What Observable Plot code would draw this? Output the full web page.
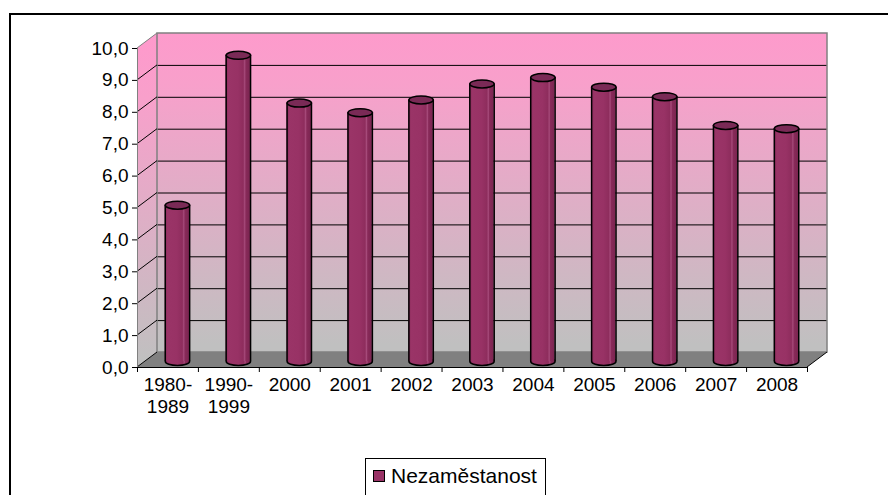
<!DOCTYPE html>
<html>
<head>
<meta charset="utf-8">
<script src="https://cdn.jsdelivr.net/npm/d3@7"></script>
<script src="https://cdn.jsdelivr.net/npm/@observablehq/plot@0.6"></script>
<style>
  html, body { margin: 0; padding: 0; background: #fff; overflow: hidden; width: 888px; height: 495px; }
  #frame { position: absolute; left: 9px; top: 13px; width: 1000px; height: 1000px; border: 2px solid #000; box-sizing: border-box; }
  #chart { position: absolute; left: 0; top: 0; }
  #legend { position: absolute; left: 365px; top: 458px; width: 181px; height: 40px; border: 1px solid #000; box-sizing: border-box; background: #fff;
            font-family: "Liberation Sans", Arial, sans-serif; font-size: 21px; color: #000; }
  #legend .sw { position: absolute; left: 7px; top: 11px; width: 12px; height: 12px; background: #993366; border: 1px solid #000; box-sizing: border-box; }
  #legend .lb { position: absolute; left: 25px; top: 5px; line-height: 24px; white-space: nowrap; }
</style>
</head>
<body>
<div id="frame"></div>
<div id="chart"></div>
<div id="legend"><span class="sw"></span><span class="lb">Nezaměstanost</span></div>
<script>
// ---- data ----
const categories = ["1980-\n1989", "1990-\n1999", "2000", "2001", "2002", "2003", "2004", "2005", "2006", "2007", "2008"];
const values = [4.9, 9.6, 8.1, 7.8, 8.2, 8.7, 8.9, 8.6, 8.3, 7.4, 7.3];
const yTicks = [0, 1, 2, 3, 4, 5, 6, 7, 8, 9, 10];
const seriesName = "Nezaměstanost";

const data = categories.map((c, i) => ({ c, i, v: values[i] }));
const n = categories.length;

// 3D offsets (pixels)
const DX = 20, DY = -15;      // back wall depth
const CX = 9.5, CY = -6;      // cylinder mid depth
const RX = 12.2, RY = 4;      // cylinder ellipse radii

const ellipse = {
  draw(ctx) {
    const k = 0.5523;
    ctx.moveTo(RX, 0);
    ctx.bezierCurveTo(RX, RY * k, RX * k, RY, 0, RY);
    ctx.bezierCurveTo(-RX * k, RY, -RX, RY * k, -RX, 0);
    ctx.bezierCurveTo(-RX, -RY * k, -RX * k, -RY, 0, -RY);
    ctx.bezierCurveTo(RX * k, -RY, RX, -RY * k, RX, 0);
    ctx.closePath();
  }
};

function pathEl(d, attrs) {
  const el = document.createElementNS("http://www.w3.org/2000/svg", "path");
  el.setAttribute("d", d);
  for (const k in attrs) el.setAttribute(k, attrs[k]);
  return el;
}

// left side wall (uses scales)
const leftWall = (index, { x, y }) => {
  const x0 = x(0), yb = y(0), yt = y(yTicks[yTicks.length - 1]);
  const d = `M${x0},${yb}L${x0},${yt}L${x0 + DX},${yt + DY}L${x0 + DX},${yb + DY}Z`;
  return pathEl(d, { fill: "url(#wallGrad)", stroke: "none" });
};
// floor
const floor = (index, { x, y }) => {
  const x0 = x(0), x1 = x(n), y0 = y(0);
  const d = `M${x0},${y0}L${x1},${y0}L${x1 + DX},${y0 + DY}L${x0 + DX},${y0 + DY}Z`;
  return pathEl(d, { fill: "#808080", stroke: "none" });
};
// diagonals on left wall and right floor edge
const diagonals = (index, { x, y }) => {
  const g = document.createElementNS("http://www.w3.org/2000/svg", "g");
  const x0 = x(0);
  for (const t of yTicks) {
    const yy = y(t);
    g.appendChild(pathEl(`M${x0},${yy}L${x0 + DX},${yy + DY}`, {
      stroke: t === yTicks[yTicks.length - 1] ? "#808080" : "#000", "stroke-width": 1, fill: "none"
    }));
  }
  const x1 = x(n), y0 = y(0);
  g.appendChild(pathEl(`M${x1},${y0}L${x1 + DX},${y0 + DY}`, { stroke: "#000", "stroke-width": 1, fill: "none" }));
  return g;
};

const chart = Plot.plot({
  width: 888,
  height: 495,
  marginLeft: 137,
  marginRight: 81,
  marginTop: 48,
  marginBottom: 128,
  style: { fontFamily: "'Liberation Sans', Arial, sans-serif", fontSize: "19px", background: "transparent", color: "#000" },
  x: { type: "linear", domain: [0, n], axis: null },
  y: { domain: [0, 10], axis: null },
  marks: [
    // back wall
    Plot.rect([0], { x1: 0, x2: n, y1: 0, y2: 10, dx: DX, dy: DY, fill: "url(#wallGrad)" }),
    leftWall,
    floor,
    // back gridlines
    Plot.ruleY(yTicks.slice(1, -1), { x1: 0, x2: n, dx: DX, dy: DY, stroke: "#000", strokeWidth: 1 }),
    // back wall border
    Plot.rect([0], { x1: 0, x2: n, y1: 0, y2: 10, dx: DX, dy: DY, fill: "none", stroke: "#808080", strokeWidth: 1.5 }),
    diagonals,
    // cylinders
    Plot.dot(data, { x: d => d.i + 0.5, y: 0, dx: CX, dy: CY, symbol: ellipse, fill: "url(#cylGrad)", stroke: "#000", strokeWidth: 1.5 }),
    Plot.rect(data, { x1: d => d.i, x2: d => d.i + 1, y1: 0, y2: "v", insetLeft: (670 / n - 2 * RX) / 2, insetRight: (670 / n - 2 * RX) / 2, dx: CX, dy: CY, fill: "url(#cylGrad)" }),
    Plot.ruleX(data, { x: d => d.i + 0.5, y1: 0, y2: "v", dx: CX - RX, dy: CY, stroke: "#000", strokeWidth: 1.5 }),
    Plot.ruleX(data, { x: d => d.i + 0.5, y1: 0, y2: "v", dx: CX + RX, dy: CY, stroke: "#000", strokeWidth: 1.5 }),
    Plot.dot(data, { x: d => d.i + 0.5, y: "v", dx: CX, dy: CY, symbol: ellipse, fill: "#7a2a56", stroke: "#000", strokeWidth: 1.5 }),
    // axes lines
    Plot.ruleY([0], { x1: 0, x2: n, stroke: "#000", strokeWidth: 1 }),
    Plot.ruleX([0], { y1: 0, y2: 10, stroke: "#808080", strokeWidth: 1 }),
    Plot.axisY({ ticks: yTicks, tickSize: 5, tickPadding: 4, tickFormat: d => d.toFixed(1).replace(".", ","), label: null, stroke: "#000" }),
    Plot.axisX({ ticks: d3.range(n + 1), tickSize: 5, tickFormat: () => "", label: null, stroke: "#000" }),
    Plot.text(data, { x: d => d.i + 0.5, y: 0, text: "c", lineAnchor: "top", dy: 7.5, lineHeight: 1.16, fill: "#000" })
  ]
});

// gradients
const svg = d3.select(chart);
const defs = svg.insert("defs", ":first-child");
const wg = defs.append("linearGradient").attr("id", "wallGrad")
  .attr("gradientUnits", "userSpaceOnUse").attr("x1", 0).attr("x2", 0).attr("y1", 33).attr("y2", 360);
wg.append("stop").attr("offset", "0").attr("stop-color", "#ff99cc");
wg.append("stop").attr("offset", "0.2").attr("stop-color", "#f8a0cb");
wg.append("stop").attr("offset", "1").attr("stop-color", "#c0c0c0");
const cg = defs.append("linearGradient").attr("id", "cylGrad")
  .attr("x1", 0).attr("x2", 1).attr("y1", 0).attr("y2", 0);
[["0", "#862a58"], ["0.12", "#9a3467"], ["0.5", "#983265"], ["0.72", "#8e2d5d"], ["0.78", "#a64a7a"], ["0.83", "#882a59"], ["1", "#7a2550"]]
  .forEach(([o, c]) => cg.append("stop").attr("offset", o).attr("stop-color", c));

document.getElementById("chart").appendChild(chart);
</script>
</body>
</html>
